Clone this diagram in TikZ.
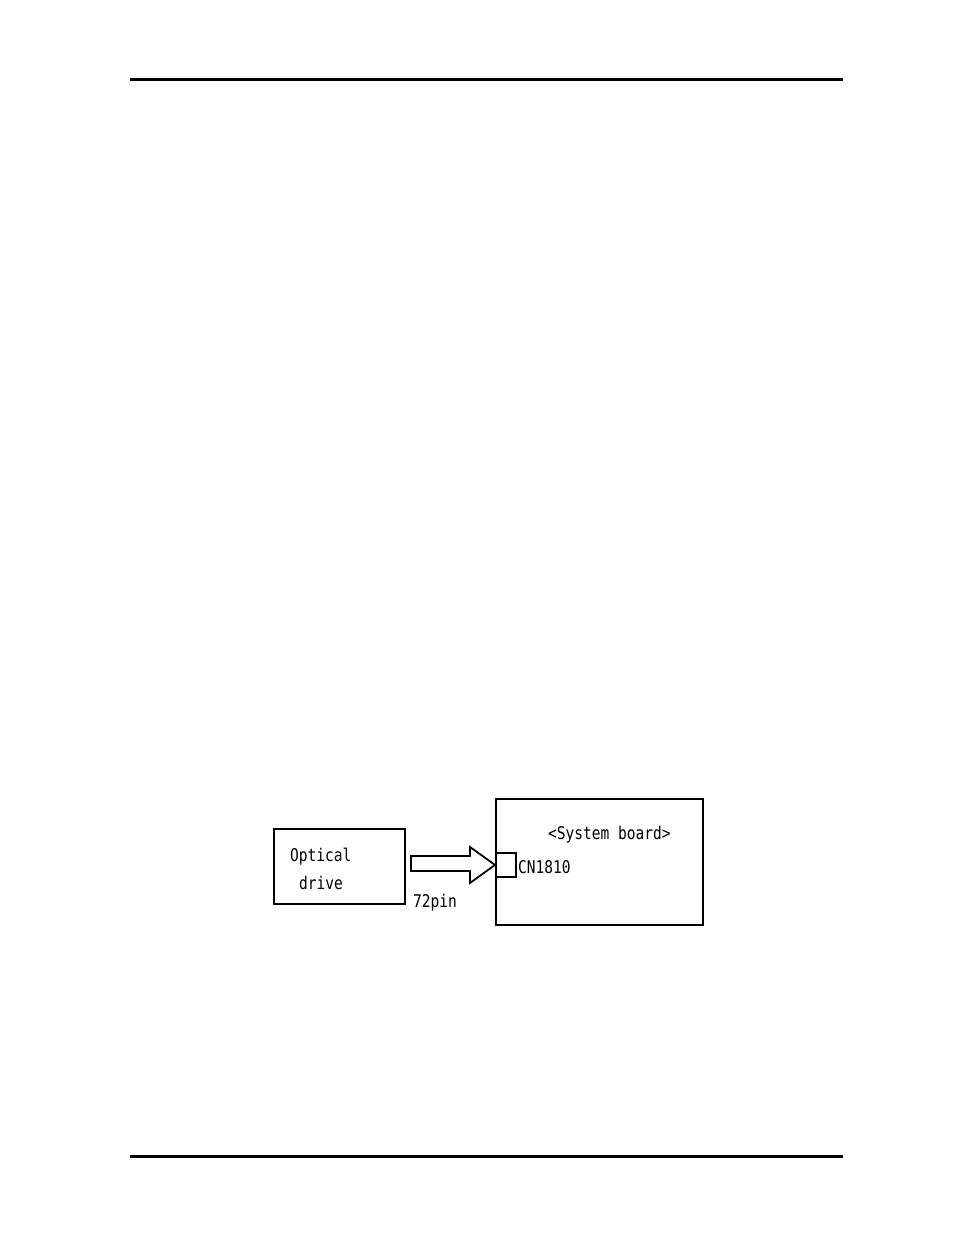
\documentclass[tikz,border=0pt]{standalone}
\usepackage{fontspec}
\newfontfamily\gothic[FakeStretch=0.83]{DejaVu Sans Mono}
\begin{document}
\begin{tikzpicture}[x=1pt,y=-1pt,
    box/.style={draw,line width=1.8pt},
    label/.style={anchor=base west,inner sep=0pt,font=\gothic\fontsize{17.5}{20}\selectfont}]

    \useasboundingbox (0,0) rectangle (954,1235);

    %page rules:
    \draw[line width=3pt] (130,79) -- (843,79);
    \draw[line width=3pt] (130,1156) -- (843,1156);

    %boxes:
    \node[box,minimum width=131,minimum height=75,anchor=north west] (drive) at (273,828) {};
    \node[box,minimum width=207,minimum height=126,anchor=north west] (board) at (495,798) {};
    \node[box,minimum width=20,minimum height=24,anchor=north west] (cn) at (495,852) {};

    %arrow:
    \draw[line width=1.8pt] (411,856) -- (470,856) -- (470,847) -- (cn.west) -- (470,883)
        -- (470,871) -- (411,871) -- cycle;

    %texts:
    \node[label] (optical) at (290,861) {Optical};
    \node[label] (drv) at (299,889) {drive};
    \node[label] (sys) at (548,839) {<System board>};
    \node[label] (cnlabel) at (518,873) {CN1810};
    \node[label] (pin) at (413,907) {72pin};

\end{tikzpicture}
\end{document}
